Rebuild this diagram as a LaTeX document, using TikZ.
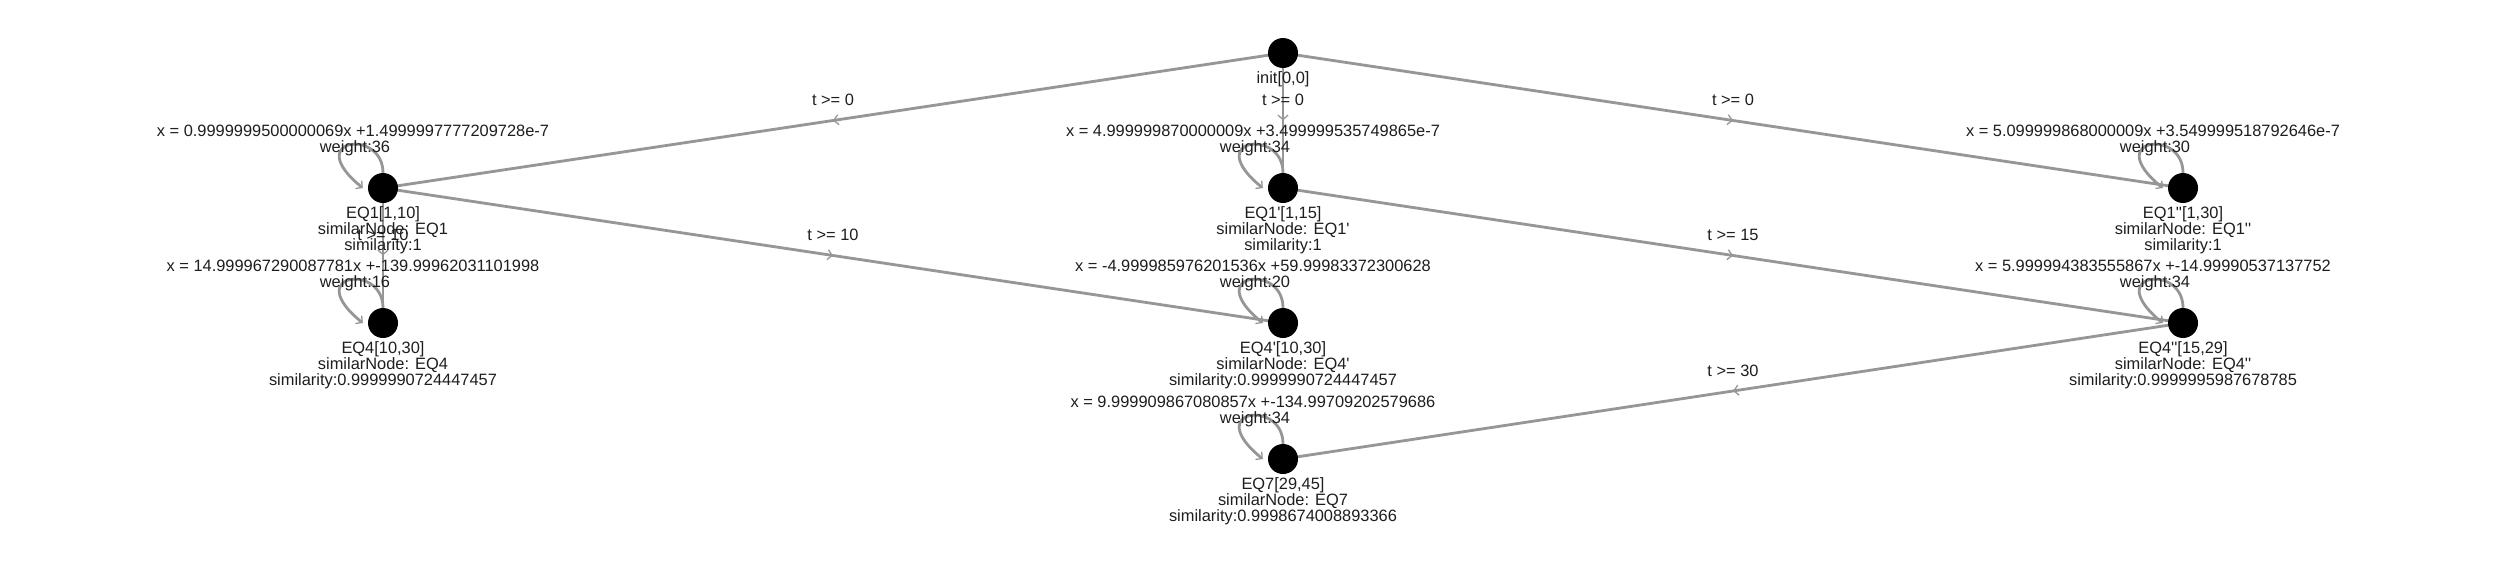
\documentclass[tikz,border=0pt]{standalone}
\usepackage{fontspec}
\setmainfont{Liberation Sans}
\usetikzlibrary{arrows.meta,decorations.markings,backgrounds}
\definecolor{edgegray}{RGB}{150,150,150}
\definecolor{txt}{RGB}{30,30,30}
\newcommand\ap{\textquotesingle}
\tikzset{
  st/.style={circle, fill=black, minimum size=30pt, inner sep=0pt},
  lab/.style={font=\fontsize{16.4}{16.4}\selectfont, text=txt, inner sep=0pt, anchor=base},
  conn/.style={draw=edgegray, line width=2.8pt, postaction={decorate},
    decoration={markings, mark=at position 0.5 with {\arrow[edgegray]{Straight Barb[length=4.5pt,width=10pt,line width=1.3pt]}}}},
  selfloop/.style={draw=edgegray, line width=2.8pt, -{Straight Barb[length=4.5pt,width=10pt,line width=1.3pt]}},
}
% name, x, y, line1, line2, line3, loop label 1, loop label 2
\newcommand\EQstate[8]{%
  \node[st] (#1) at (#2,#3) {};
  \node[lab] (#1-a) at ([yshift=-30.3pt]#1.center) {#4};
  \node[lab] (#1-b) at ([yshift=-46.5pt]#1.center) {#5};
  \node[lab] (#1-c) at ([yshift=-62.7pt]#1.center) {#6};
  \draw[selfloop] (#1.north) .. controls +(0,-45) and +(-62,-50) .. ([xshift=-5pt]#1.west);
  \node[lab] (#1-x) at ([xshift=-30pt,yshift=51.3pt]#1.center) {#7};
  \node[lab] (#1-w) at ([xshift=-28pt,yshift=35.3pt]#1.center) {#8};
}
\begin{document}
\begin{tikzpicture}[x=1pt,y=-1pt]
\useasboundingbox (0,0) rectangle (2500,562);
\node[st] (init) at (1283,53) {};
\node[lab] (init-a) at ([yshift=-30.3pt]init.center) {init[0,0]};
\EQstate{eq1}{383}{188}{EQ1[1,10]}{similarNode: EQ1}{similarity:1}{x = 0.9999999500000069x +1.4999997777209728e-7}{weight:36}
\EQstate{eq1p}{1283}{188}{EQ1\ap[1,15]}{similarNode: EQ1\ap}{similarity:1}{x = 4.999999870000009x +3.499999535749865e-7}{weight:34}
\EQstate{eq1pp}{2183}{188}{EQ1\ap\ap[1,30]}{similarNode: EQ1\ap\ap}{similarity:1}{x = 5.099999868000009x +3.549999518792646e-7}{weight:30}
\EQstate{eq4}{383}{323}{EQ4[10,30]}{similarNode: EQ4}{similarity:0.9999990724447457}{x = 14.999967290087781x +-139.99962031101998}{weight:16}
\EQstate{eq4p}{1283}{323}{EQ4\ap[10,30]}{similarNode: EQ4\ap}{similarity:0.9999990724447457}{x = -4.999985976201536x +59.99983372300628}{weight:20}
\EQstate{eq4pp}{2183}{323}{EQ4\ap\ap[15,29]}{similarNode: EQ4\ap\ap}{similarity:0.9999995987678785}{x = 5.999994383555867x +-14.99990537137752}{weight:34}
\EQstate{eq7}{1283}{459}{EQ7[29,45]}{similarNode: EQ7}{similarity:0.9998674008893366}{x = 9.999909867080857x +-134.99709202579686}{weight:34}
\begin{scope}[on background layer]
  \fill[white] (0,0) rectangle (2500,562);
  \draw[conn] (init.center) -- node[lab, pos=0.5, yshift=15pt] (l1) {t >= 0} (eq1.center);
  \draw[conn] (init.center) -- node[lab, pos=0.5, yshift=15pt] (l2) {t >= 0} (eq1p.center);
  \draw[conn] (init.center) -- node[lab, pos=0.5, yshift=15pt] (l3) {t >= 0} (eq1pp.center);
  \draw[conn] (eq1.center) -- node[lab, pos=0.5, yshift=15pt] (l4) {t >= 10} (eq4.center);
  \draw[conn] (eq1.center) -- node[lab, pos=0.5, yshift=15pt] (l5) {t >= 10} (eq4p.center);
  \draw[conn] (eq1p.center) -- node[lab, pos=0.5, yshift=15pt] (l6) {t >= 15} (eq4pp.center);
  \draw[conn] (eq4pp.center) -- node[lab, pos=0.5, yshift=15pt] (l7) {t >= 30} (eq7.center);
\end{scope}
\end{tikzpicture}
\end{document}
